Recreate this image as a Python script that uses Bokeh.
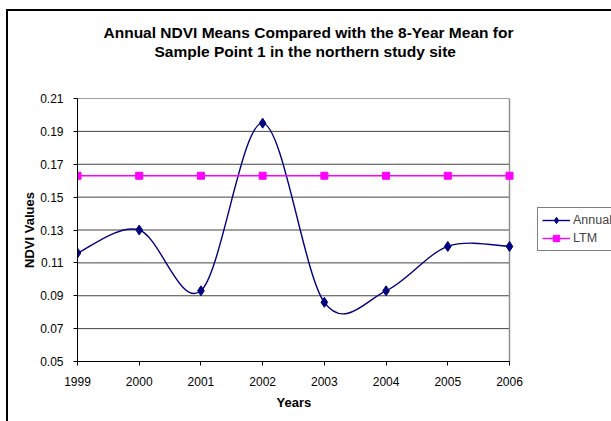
from bokeh.plotting import figure
from bokeh.models import Range1d, FixedTicker, NumeralTickFormatter, Legend, LegendItem, Title
from bokeh.embed import file_html
from bokeh.resources import INLINE

years = [1999, 2000, 2001, 2002, 2003, 2004, 2005, 2006]
annual = [0.116, 0.130, 0.093, 0.195, 0.086, 0.093, 0.120, 0.120]
ltm = [0.163, 0.163, 0.163, 0.163, 0.163, 0.163, 0.163, 0.163]
y_ticks = [0.05, 0.07, 0.09, 0.11, 0.13, 0.15, 0.17, 0.19, 0.21]
title_lines = ["Annual NDVI Means Compared with the 8-Year Mean for",
               "Sample Point 1 in the northern study site"]
x_label = "Years"
y_label = "NDVI Values"

FONT = "Liberation Sans"

# layout (pixels)
PLOT_W = 432      # width of the plotted 1999-2006 area
EXTRA_W = 116     # frame space right of 2006 that holds the legend
FRAME_L = 69


def smooth_segments(xs, ys):
    # Excel-style smoothed line: cubic Bezier with Catmull-Rom control points
    n = len(xs)
    out = {"x0": [], "y0": [], "x1": [], "y1": [], "cx0": [], "cy0": [], "cx1": [], "cy1": []}
    for i in range(n - 1):
        xm, ym = (xs[i - 1], ys[i - 1]) if i > 0 else (xs[i], ys[i])
        xp, yp = (xs[i + 2], ys[i + 2]) if i + 2 < n else (xs[i + 1], ys[i + 1])
        out["x0"].append(xs[i]); out["y0"].append(ys[i])
        out["x1"].append(xs[i + 1]); out["y1"].append(ys[i + 1])
        out["cx0"].append(xs[i] + (xs[i + 1] - xm) / 6.0)
        out["cy0"].append(ys[i] + (ys[i + 1] - ym) / 6.0)
        out["cx1"].append(xs[i + 1] - (xp - xs[i]) / 6.0)
        out["cy1"].append(ys[i + 1] - (yp - ys[i]) / 6.0)
    return out


x_end = years[-1] + (years[-1] - years[0]) * EXTRA_W / PLOT_W
p = figure(width=FRAME_L + PLOT_W + EXTRA_W, height=422, output_backend="svg", toolbar_location=None,
           x_range=Range1d(years[0], x_end), y_range=Range1d(y_ticks[0], y_ticks[-1]),
           min_border_left=FRAME_L, min_border_top=87, min_border_right=0, min_border_bottom=72)
p.styles = {"border": "2px solid black", "margin": "9px 0px 0px 6px"}
p.background_fill_color = "white"
p.border_fill_color = "white"
p.outline_line_color = None

p.xgrid.visible = False
p.ygrid.visible = False
# horizontal gridlines and right edge of the plotting area, limited to 1999-2006
p.segment(x0=[years[0]] * len(y_ticks), x1=[years[-1]] * len(y_ticks), y0=y_ticks, y1=y_ticks,
          line_color="#444444", line_width=1)
p.segment(x0=[years[-1]], x1=[years[-1]], y0=[y_ticks[0]], y1=[y_ticks[-1]],
          line_color="#909090", line_width=1.5)

p.xaxis.ticker = FixedTicker(ticks=years)
p.xaxis.bounds = (years[0], years[-1])
p.yaxis.ticker = FixedTicker(ticks=y_ticks)
p.yaxis.formatter = NumeralTickFormatter(format="0.00")
for ax in (p.xaxis, p.yaxis):
    ax.axis_line_color = "black"
    ax.major_tick_line_color = "black"
    ax.major_tick_out = 4
    ax.major_tick_in = 0
    ax.minor_tick_line_color = None
    ax.major_label_text_font = FONT
    ax.major_label_text_font_size = "12px"
    ax.major_label_text_color = "black"
    ax.axis_label_text_font = FONT
    ax.axis_label_text_font_size = "13px"
    ax.axis_label_text_font_style = "bold"
    ax.axis_label_text_color = "black"
p.yaxis.axis_label = y_label
p.xaxis.major_label_standoff = 11
p.yaxis.major_label_standoff = 10
p.yaxis.axis_label_standoff = 0

# x-axis title: centred under the 1999-2006 span (not the wider frame)
p.add_layout(Title(text=x_label, align="left", offset=199, standoff=8,
                   text_font=FONT, text_font_size="13px", text_font_style="bold",
                   text_color="black"), "below")

seg = smooth_segments(years, annual)
p.bezier(x0=seg["x0"], y0=seg["y0"], x1=seg["x1"], y1=seg["y1"],
         cx0=seg["cx0"], cy0=seg["cy0"], cx1=seg["cx1"], cy1=seg["cy1"],
         line_color="#000080", line_width=1.4)
a_pts = p.scatter(years, annual, marker="diamond", size=10, fill_color="#000080", line_color="#000080")

l_line = p.line(years, ltm, line_color="#FF00FF", line_width=1.4)
l_pts = p.scatter(years, ltm, marker="square", size=7, fill_color="#FF00FF", line_color="#FF00FF")

# one-point line: draws nothing on the plot, only supplies the legend stroke
legend_a_line = p.line(years[:1], annual[:1], line_color="#000080", line_width=1.4)
legend = Legend(items=[
    LegendItem(label="Annual", renderers=[legend_a_line, a_pts]),
    LegendItem(label="LTM", renderers=[l_line, l_pts]),
], location=(PLOT_W + 28, 110), orientation="vertical")
legend.margin = 0
legend.padding = 4
legend.spacing = 2
legend.glyph_width = 28
legend.glyph_height = 16
legend.label_standoff = 3
legend.label_text_font = FONT
legend.label_text_font_size = "12.5px"
legend.border_line_color = "black"
legend.border_line_width = 1
legend.background_fill_color = "white"
legend.background_fill_alpha = 1
p.add_layout(legend, "center")

# chart title: spacer next to the frame, then line 2, then line 1 (stacked outward)
p.add_layout(Title(text=" ", standoff=20, text_font=FONT, text_font_size="15.5px"), "above")
p.add_layout(Title(text=title_lines[1], align="left", offset=77, standoff=0,
                   text_font=FONT, text_font_size="15.5px", text_font_style="bold",
                   text_color="black"), "above")
p.add_layout(Title(text=title_lines[0], align="left", offset=26, standoff=0,
                   text_font=FONT, text_font_size="15.5px", text_font_style="bold",
                   text_color="black"), "above")

open("out.html", "w").write(file_html(p, INLINE))
